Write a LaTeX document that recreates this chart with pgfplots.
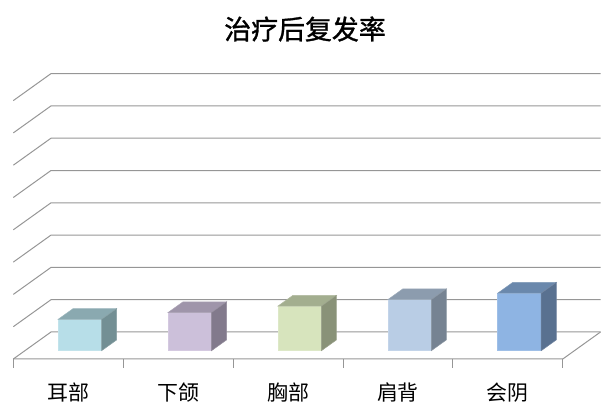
\documentclass[border=0pt]{standalone}
\usepackage{pgfplots}
\pgfplotsset{compat=1.18}
\usepackage{fontspec}
\newfontfamily\cjk{Noto Sans CJK SC}
\newfontfamily\cjkt[FakeBold=1.2]{Noto Sans CJK SC}
\definecolor{gridc}{RGB}{150,150,150}
\definecolor{fa}{HTML}{B7DEE8}\definecolor{ta}{HTML}{8AA9B0}\definecolor{sa}{HTML}{738F94}
\definecolor{fb}{HTML}{CCC0DA}\definecolor{tb}{HTML}{9F95AA}\definecolor{sb}{HTML}{827A8C}
\definecolor{fc}{HTML}{D7E4BD}\definecolor{tc}{HTML}{A3AE8F}\definecolor{sc}{HTML}{899278}
\definecolor{fd}{HTML}{B9CDE5}\definecolor{td}{HTML}{8C9CAE}\definecolor{sd}{HTML}{768392}
\definecolor{fe}{HTML}{8EB4E3}\definecolor{te}{HTML}{6A88AC}\definecolor{se}{HTML}{597190}
% cuboid: #1 category, #2 value, #3 front, #4 top, #5 side colour
\newcommand\cuboid[5]{%
  \pgfmathsetmacro\cbXl{#1-0.0927}%
  \pgfmathsetmacro\cbXr{#1+0.3033}%
  \pgfmathsetmacro\cbXbl{#1+0.0445}%
  \pgfmathsetmacro\cbXbr{#1+0.4405}%
  \pgfmathsetmacro\cbYt{#2-0.5793}%
  \pgfmathsetmacro\cbYbt{#2-0.2449}%
  \addplot[fill=#3, draw=#3!85!white, line width=0.5bp] coordinates {(\cbXl,-0.5793)(\cbXr,-0.5793)(\cbXr,\cbYt)(\cbXl,\cbYt)} -- cycle;
  \addplot[fill=#4, draw=#4!85!white, line width=0.5bp] coordinates {(\cbXl,\cbYt)(\cbXr,\cbYt)(\cbXbr,\cbYbt)(\cbXbl,\cbYbt)} -- cycle;
  \addplot[fill=#5, draw=#5!85!white, line width=0.5bp] coordinates {(\cbXr,-0.5793)(\cbXbr,-0.2449)(\cbXbr,\cbYbt)(\cbXr,\cbYt)} -- cycle;
}
\begin{document}
\begin{tikzpicture}
\begin{axis}[
  scale only axis, width=610bp, height=410bp,
  xmin=0.379, xmax=5.9295, ymin=-2.415, ymax=10.279,
  hide axis, clip=false,
  title={\cjkt\fontsize{27}{27}\selectfont 治疗后复发率},
  title style={at={(axis description cs:0.5,0.9146)}, anchor=center, inner sep=0pt},
]
% invisible frame that fixes the picture's extent
\addplot[draw=none, mark=none] coordinates {(0.379,-2.415)(5.9295,10.279)};
% back-wall gridlines with left-wall diagonals
\addplot[gridc, line width=1bp, mark=none] coordinates {(0.5,-0.836)(0.843,0)(5.843,0)};
\addplot[gridc, line width=1bp, mark=none] coordinates {(0.5,0.164)(0.843,1)(5.843,1)};
\addplot[gridc, line width=1bp, mark=none] coordinates {(0.5,1.164)(0.843,2)(5.843,2)};
\addplot[gridc, line width=1bp, mark=none] coordinates {(0.5,2.164)(0.843,3)(5.843,3)};
\addplot[gridc, line width=1bp, mark=none] coordinates {(0.5,3.164)(0.843,4)(5.843,4)};
\addplot[gridc, line width=1bp, mark=none] coordinates {(0.5,4.164)(0.843,5)(5.843,5)};
\addplot[gridc, line width=1bp, mark=none] coordinates {(0.5,5.164)(0.843,6)(5.843,6)};
\addplot[gridc, line width=1bp, mark=none] coordinates {(0.5,6.164)(0.843,7)(5.843,7)};
\addplot[gridc, line width=1bp, mark=none] coordinates {(0.5,7.164)(0.843,8)(5.843,8)};
% floor front and right edges
\addplot[gridc, line width=1bp, mark=none] coordinates {(0.5,-0.836)(5.5,-0.836)(5.843,0)};
% category ticks
\addplot[gridc, line width=1bp, mark=none] coordinates {(0.5,-0.836)(0.5,-1.115)};
\addplot[gridc, line width=1bp, mark=none] coordinates {(1.5,-0.836)(1.5,-1.115)};
\addplot[gridc, line width=1bp, mark=none] coordinates {(2.5,-0.836)(2.5,-1.115)};
\addplot[gridc, line width=1bp, mark=none] coordinates {(3.5,-0.836)(3.5,-1.115)};
\addplot[gridc, line width=1bp, mark=none] coordinates {(4.5,-0.836)(4.5,-1.115)};
\addplot[gridc, line width=1bp, mark=none] coordinates {(5.5,-0.836)(5.5,-1.115)};
% bars (category, value)
\cuboid{1}{0.97}{fa}{ta}{sa}
\cuboid{2}{1.18}{fb}{tb}{sb}
\cuboid{3}{1.38}{fc}{tc}{sc}
\cuboid{4}{1.58}{fd}{td}{sd}
\cuboid{5}{1.78}{fe}{te}{se}
% category labels
\addplot[draw=none, mark=none, nodes near coords, point meta=explicit symbolic,
  every node near coord/.style={anchor=center, inner sep=0pt, text=black, font=\cjk\fontsize{21}{21}\selectfont}]
  coordinates {(1,-1.88)[耳部] (2,-1.88)[下颌] (3,-1.88)[胸部] (4,-1.88)[肩背] (5,-1.88)[会阴]};
\end{axis}
\end{tikzpicture}
\end{document}
